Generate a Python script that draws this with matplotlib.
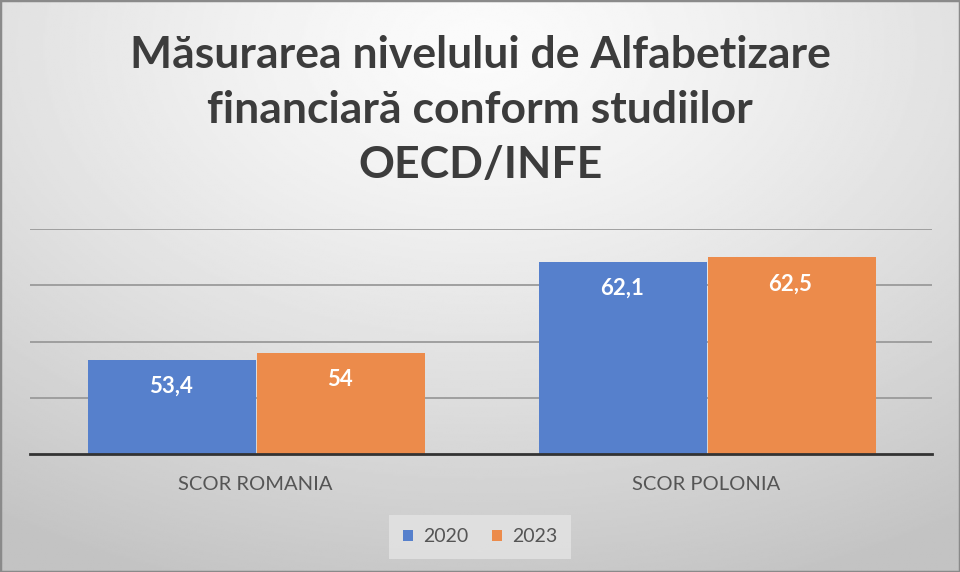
import numpy as np
import matplotlib
matplotlib.use('Agg')
import matplotlib.pyplot as plt

# date grafic
categorii = ['SCOR ROMANIA', 'SCOR POLONIA']
ani = ['2020', '2023']
valori_2020 = [53.4, 62.1]
valori_2023 = [54.0, 62.5]
etichete_2020 = ['53,4', '62,1']
etichete_2023 = ['54', '62,5']
titlu = 'Măsurarea nivelului de Alfabetizare\nfinanciară conform studiilor\nOECD/INFE'

culori = ['#5680CC', '#EC8B4B']

plt.rcParams['font.family'] = ['Lato', 'DejaVu Sans']

fig = plt.figure(figsize=(9.6, 5.72), dpi=100)

# fundal cu gradient radial
bg = fig.add_axes([0, 0, 1, 1], zorder=-10)
yy, xx = np.mgrid[0:1:300j, 0:1:500j]
dist = np.sqrt(((xx - 0.5) * 1.0) ** 2 + ((yy - 0.08) * 0.9) ** 2)
grad = 0.985 - 0.22 * np.clip(dist / 0.9, 0, 1) ** 1.3
bg.imshow(grad, cmap='gray', vmin=0, vmax=1, extent=[0, 1, 1, 0], aspect='auto')
bg.set_xlim(0, 1)
bg.set_ylim(1, 0)
bg.axis('off')
fig.patches.append(plt.Rectangle((0, 0), 1, 1, transform=fig.transFigure,
                                 fill=False, edgecolor='#8A8A8A', linewidth=2.5))

ax = fig.add_axes([30 / 960, (572 - 454) / 572, 902 / 960, (454 - 229) / 572])
ax.patch.set_alpha(0)

x = np.arange(len(categorii))
w = 168 / 451
ax.bar(x - w / 2, valori_2020, w, color=culori[0], label=ani[0], zorder=3)
ax.bar(x + w / 2 + 0.004, valori_2023, w, color=culori[1], label=ani[1], zorder=3)

for i in range(len(categorii)):
    ax.text(x[i] - w / 2, valori_2020[i] - 2.4, etichete_2020[i], ha='center', va='center',
            color='white', fontsize=16, fontweight='bold', zorder=4)
    ax.text(x[i] + w / 2, valori_2023[i] - 2.4, etichete_2023[i], ha='center', va='center',
            color='white', fontsize=16, fontweight='bold', zorder=4)

ax.set_ylim(45, 65)
ax.set_xlim(-0.5, 1.5)
ax.set_yticks([50, 55, 60, 65])
ax.yaxis.grid(True, color='#9A9A9A', linewidth=1.3, zorder=0)
ax.tick_params(axis='y', left=False, labelleft=False)
ax.tick_params(axis='x', bottom=False, labelsize=14.5, labelcolor='#555555', pad=12)
ax.set_xticks(x)
ax.set_xticklabels(categorii)
for s in ['top', 'right', 'left']:
    ax.spines[s].set_visible(False)
ax.spines['bottom'].set_color('#333333')
ax.spines['bottom'].set_linewidth(2)
ax.spines['bottom'].set_zorder(5)

leg = ax.legend(loc='center', bbox_to_anchor=(480 / 960, 1 - 537 / 572), bbox_transform=fig.transFigure,
                ncol=2, frameon=True, fontsize=14, handlelength=0.55, handleheight=0.55,
                handletextpad=0.5, columnspacing=1.2, borderpad=0.7, fancybox=False)
leg.get_frame().set_facecolor('#E4E4E4')
leg.get_frame().set_edgecolor('none')
for t in leg.get_texts():
    t.set_color('#555555')

fig.text(0.5, 1 - 110 / 572, titlu, ha='center', va='center', fontsize=32, fontweight='bold',
         color='#3C3C3C', linespacing=1.45)

fig.savefig('out.png', dpi=100)
